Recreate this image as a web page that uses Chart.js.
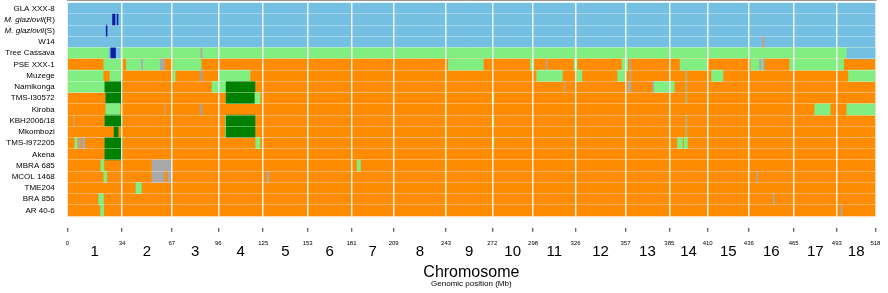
<!DOCTYPE html>
<html>
<head>
<meta charset="utf-8">
<script src="https://cdn.jsdelivr.net/npm/chart.js@4.4.1/dist/chart.umd.min.js"></script>
<style>
  html, body { margin: 0; padding: 0; background: #fff; }
</style>
</head>
<body>
<canvas id="ancestryChart" width="888" height="293"></canvas>
<script>
  // samples, top to bottom
  const samples = ['GLA XXX-8', 'M. glaziovii(R)', 'M. glaziovii(S)', 'W14', 'Tree Cassava',
    'PSE XXX-1', 'Muzege', 'Namikonga', 'TMS-I30572', 'Kiroba', 'KBH2006/18', 'Mkombozi',
    'TMS-I972205', 'Akena', 'MBRA 685', 'MCOL 1468', 'TME204', 'BRA 856', 'AR 40-6'];

  // background ancestry of each sample
  const baseAncestry = ['B', 'B', 'B', 'B', 'L', 'O', 'O', 'O', 'O', 'O', 'O', 'O', 'O', 'O', 'O', 'O', 'O', 'O', 'O'];

  // segments per sample: [start Mb, end Mb, ancestry]
  const rowSegments = [
    [],
    [[29.0, 30.6, 'K'], [31.9, 32.5, 'K']],
    [[24.9, 25.5, 'K']],
    [[445.7, 446.6, 'T']],
    [[26.8, 33.6, 'B'], [27.9, 30.9, 'K'], [85.6, 86.3, 'G'], [499.7, 518, 'B']],
    [[23.4, 35.3, 'L'], [37.9, 59.6, 'L'], [47.6, 48.2, 'G'], [59.6, 62.4, 'G'], [67.7, 85.8, 'L'],
      [244.3, 266.7, 'L'], [296.9, 299.0, 'L'], [306.9, 307.5, 'G'], [324.8, 326.7, 'L'],
      [355.6, 359.2, 'L'], [360.7, 361.3, 'G'], [392.8, 410.3, 'L'], [438.1, 443.8, 'L'],
      [443.8, 445.2, 'G'], [445.2, 446.1, 'L'], [446.1, 446.9, 'G'], [463.1, 497.6, 'L']],
    [[0, 23.0, 'L'], [27.3, 35.1, 'L'], [67.7, 69.2, 'L'], [85.6, 86.5, 'S'], [97.0, 117.1, 'L'],
      [300.9, 317.3, 'L'], [326.7, 329.9, 'L'], [352.8, 357.5, 'L'], [360.7, 361.3, 'G'],
      [396.3, 397.2, 'V'], [413.0, 420.3, 'L'], [500.8, 518, 'L']],
    [[0, 24.1, 'L'], [24.1, 35.1, 'D'], [92.8, 101.8, 'L'], [101.8, 120.3, 'D'], [318.4, 319.0, 'T'],
      [359.4, 361.1, 'G'], [375.2, 376.3, 'G'], [376.3, 389.0, 'L'], [396.3, 397.2, 'V']],
    [[24.7, 35.1, 'D'], [101.8, 120.3, 'D'], [120.3, 123.5, 'L'], [272.4, 273.4, 'L'], [396.3, 397.2, 'V']],
    [[24.7, 33.6, 'L'], [62.6, 63.0, 'T'], [85.5, 86.3, 'S'], [479.1, 489.0, 'L'], [499.7, 518, 'L']],
    [[4.0, 4.5, 'T'], [24.1, 35.1, 'D'], [101.3, 101.8, 'L'], [101.8, 120.3, 'D'], [272.4, 273.4, 'L'],
      [396.3, 397.2, 'V']],
    [[30.0, 32.6, 'D'], [101.3, 101.8, 'L'], [101.8, 120.3, 'D'], [396.3, 397.2, 'V']],
    [[4.8, 6.3, 'L'], [7.3, 8.4, 'G'], [9.7, 11.2, 'G'], [24.1, 35.1, 'D'], [120.8, 123.5, 'L'],
      [272.4, 273.4, 'L'], [391.2, 394.3, 'L'], [395.4, 397.5, 'L']],
    [[24.1, 35.1, 'D']],
    [[21.5, 23.4, 'L'], [54.3, 67.1, 'G'], [185.8, 187.9, 'L']],
    [[23.4, 25.3, 'L'], [54.3, 67.1, 'G'], [62.4, 62.9, 'O'], [63.8, 64.3, 'O'], [127.9, 129.1, 'G'],
      [442.0, 442.6, 'G']],
    [[44.0, 47.5, 'L']],
    [[20.1, 23.2, 'L'], [452.5, 453.2, 'G']],
    [[21.3, 23.3, 'L'], [496.0, 496.6, 'G']]
  ];

  // chromosome boundaries (Mb) and their printed labels
  const chromBounds = [0, 35.1, 67.0, 96.8, 125.6, 154.1, 182.2, 209.2, 242.8, 272.4, 298.6,
    325.8, 357.8, 385.9, 410.5, 436.9, 465.6, 493.3, 518];
  const chromBoundLabels = ['0', '34', '67', '96', '125', '153', '181', '209', '243', '272', '298',
    '326', '357', '385', '410', '436', '465', '493', '518'];
  const chromNames = ['1', '2', '3', '4', '5', '6', '7', '8', '9', '10', '11', '12', '13', '14',
    '15', '16', '17', '18'];
  const genomeEnd = 518;

  const palette = {
    B: '#74bfe2', L: '#80ee80', O: '#ff8c00', D: '#008000', K: '#0d1fa0',
    G: '#a9a9a9', S: '#8da6c6', V: '#b4b26c', T: '#c8a184'
  };

  // bars: one full-length background per row, then the segments on top
  const bars = [];
  const barColors = [];
  samples.forEach((name, i) => {
    bars.push({ x: [0, genomeEnd], y: name });
    barColors.push(palette[baseAncestry[i]]);
  });
  samples.forEach((name, i) => {
    rowSegments[i].forEach(([s, e, a]) => {
      bars.push({ x: [s, e], y: name });
      barColors.push(palette[a]);
    });
  });

  // x ticks: boundaries interleaved with chromosome midpoints
  const axisTicks = [];
  const axisLabels = [];
  chromBounds.forEach((b, i) => {
    axisTicks.push(b);
    axisLabels.push(chromBoundLabels[i]);
    if (i < chromNames.length) {
      axisTicks.push((b + chromBounds[i + 1]) / 2);
      axisLabels.push(chromNames[i]);
    }
  });
  const lastTick = axisTicks.length - 1;

  const FONT = '"Liberation Sans", Arial, Helvetica, sans-serif';
  Chart.defaults.font.family = FONT;
  Chart.defaults.color = '#000';

  const rowLabels = {
    id: 'rowLabels',
    afterDraw(chart) {
      const { ctx, chartArea, scales } = chart;
      const xRight = chartArea.left - 12.5;
      ctx.save();
      ctx.fillStyle = '#000';
      ctx.textAlign = 'right';
      ctx.textBaseline = 'middle';
      samples.forEach((name, i) => {
        const yPix = scales.y.getPixelForValue(i);
        const m = name.match(/^(M\. glaziovii)(.*)$/);
        ctx.font = '8px ' + FONT;
        if (m) {
          const w = ctx.measureText(m[2]).width;
          ctx.fillText(m[2], xRight, yPix);
          ctx.font = 'italic 8px ' + FONT;
          ctx.fillText(m[1], xRight - w, yPix);
        } else {
          ctx.fillText(name, xRight, yPix);
        }
      });
      ctx.restore();
    }
  };

  new Chart(document.getElementById('ancestryChart'), {
    type: 'bar',
    data: {
      labels: samples.concat(['']),
      datasets: [{
        data: bars,
        backgroundColor: barColors,
        borderWidth: 0,
        grouped: false,
        barPercentage: 1,
        categoryPercentage: 1
      }]
    },
    options: {
      indexAxis: 'y',
      responsive: false,
      animation: false,
      layout: { padding: { top: 2.7, right: 9.3, left: 0, bottom: 0 } },
      plugins: { legend: { display: false }, tooltip: { enabled: false } },
      scales: {
        y: {
          grid: { color: 'rgba(255, 255, 255, 0.35)', lineWidth: 1, drawTicks: false, z: 1 },
          border: { display: false },
          ticks: { display: false },
          afterFit: (s) => { s.width = 67.3; }
        },
        x: {
          type: 'linear',
          min: 0,
          max: genomeEnd,
          position: 'bottom',
          weight: 0,
          afterBuildTicks: (s) => { s.ticks = axisTicks.map(v => ({ value: v })); },
          grid: {
            z: 1,
            lineWidth: 1.5,
            color: (c) => (c.index % 2 === 1 || c.index === 0 || c.index === lastTick)
              ? 'rgba(0, 0, 0, 0)' : 'rgba(255, 255, 255, 0.85)',
            tickColor: (c) => c.index % 2 === 1 ? 'rgba(0, 0, 0, 0)' : '#333',
            tickLength: 4.5,
            tickWidth: 1
          },
          border: { display: true, color: '#333', width: 1 },
          ticks: {
            autoSkip: false,
            maxRotation: 0,
            minRotation: 0,
            padding: 7.6,
            color: '#000',
            font: (c) => c.index % 2 === 1 ? { size: 15, lineHeight: 1.64 } : { size: 6 },
            callback: (v, i) => axisLabels[i]
          },
          title: { display: true, text: 'Chromosome', font: { size: 16 }, color: '#000', padding: 0 },
          afterFit: (s) => { s.height = 55.1; }
        },
        x2: {
          type: 'linear',
          min: 0,
          max: genomeEnd,
          position: 'bottom',
          weight: 1,
          grid: { display: false, drawTicks: false },
          border: { display: false },
          ticks: { display: false },
          title: {
            display: true,
            text: 'Genomic position (Mb)',
            font: { size: 8 },
            color: '#000',
            padding: { top: 0, bottom: 4 }
          },
          afterFit: (s) => { s.height = 10.6; }
        }
      }
    },
    plugins: [rowLabels]
  });
</script>
</body>
</html>
